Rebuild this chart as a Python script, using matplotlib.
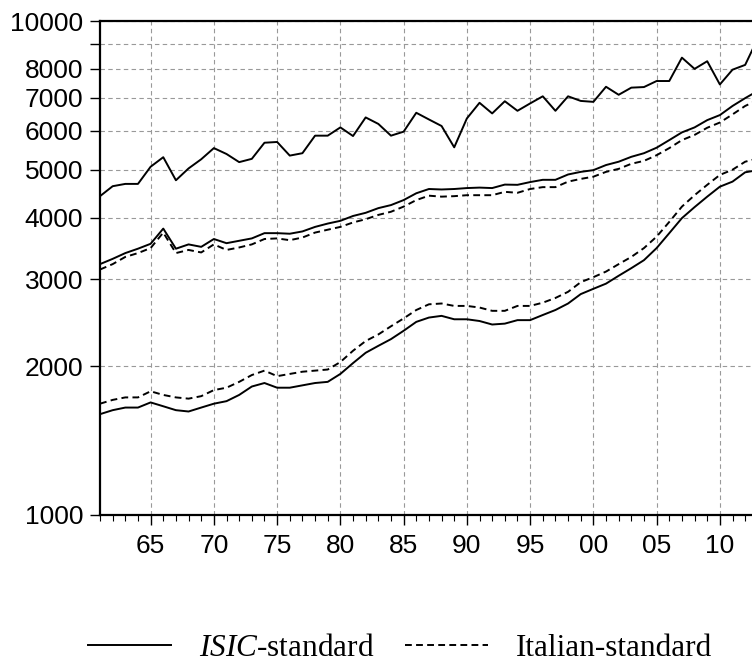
import matplotlib
matplotlib.use("Agg")
import matplotlib.pyplot as plt
from matplotlib.ticker import FixedLocator, MultipleLocator, NullFormatter

# years on the x axis
years = list(range(1961, 2014))

# upper series (one line only)
top_isic = [4420, 4630, 4680, 4680, 5070, 5300, 4760, 5030, 5250, 5530,
            5380, 5180, 5260, 5670, 5690, 5340, 5400, 5860, 5860, 6090,
            5850, 6380, 6190, 5860, 5970, 6520, 6320, 6130, 5550, 6350,
            6830, 6500, 6880, 6580, 6810, 7040, 6580, 7040, 6890, 6860,
            7360, 7090, 7330, 7350, 7560, 7560, 8430, 8000, 8290, 7440,
            7970, 8150, 9220]

# middle pair
mid_isic = [3220, 3300, 3390, 3460, 3540, 3800, 3460, 3530, 3490, 3620,
            3550, 3590, 3630, 3720, 3720, 3710, 3750, 3830, 3890, 3940,
            4030, 4090, 4180, 4240, 4340, 4480, 4570, 4560, 4570, 4590,
            4600, 4590, 4665, 4660, 4720, 4770, 4770, 4890, 4950, 4990,
            5110, 5190, 5310, 5400, 5540, 5740, 5950, 6090, 6300, 6450,
            6730, 6980, 7220]
mid_ital = [3140, 3220, 3330, 3390, 3470, 3730, 3390, 3440, 3400, 3530,
            3440, 3480, 3530, 3620, 3630, 3600, 3645, 3730, 3780, 3830,
            3910, 3970, 4050, 4110, 4210, 4340, 4430, 4410, 4420, 4440,
            4440, 4440, 4510, 4490, 4570, 4610, 4610, 4730, 4790, 4840,
            4950, 5020, 5140, 5210, 5350, 5530, 5740, 5880, 6080, 6230,
            6470, 6730, 6920]

# lower pair
low_isic = [1600, 1630, 1650, 1650, 1690, 1660, 1630, 1620, 1650, 1680,
            1700, 1750, 1820, 1850, 1810, 1810, 1830, 1850, 1860, 1930,
            2030, 2130, 2200, 2270, 2360, 2460, 2510, 2530, 2490, 2490,
            2470, 2430, 2440, 2480, 2480, 2540, 2600, 2680, 2800, 2870,
            2940, 3050, 3160, 3280, 3470, 3720, 3990, 4200, 4410, 4620,
            4730, 4940, 4990]
low_ital = [1680, 1710, 1730, 1730, 1780, 1750, 1730, 1720, 1740, 1790,
            1810, 1860, 1920, 1960, 1910, 1930, 1950, 1960, 1970, 2040,
            2150, 2250, 2320, 2410, 2500, 2600, 2670, 2680, 2650, 2650,
            2630, 2590, 2590, 2650, 2650, 2690, 2750, 2830, 2960, 3030,
            3110, 3220, 3330, 3470, 3660, 3920, 4210, 4440, 4660, 4880,
            5000, 5190, 5270]

ytick_vals = [1000, 2000, 3000, 4000, 5000, 6000, 7000, 8000, 9000, 10000]
ytick_text = ["1000", "2000", "3000", "4000", "5000", "6000", "7000", "8000", "", "10000"]
xtick_vals = [1965, 1970, 1975, 1980, 1985, 1990, 1995, 2000, 2005, 2010]
xtick_text = ["65", "70", "75", "80", "85", "90", "95", "00", "05", "10"]

plt.rcParams["font.family"] = "Liberation Sans"
plt.rcParams["mathtext.fontset"] = "custom"
plt.rcParams["mathtext.it"] = "Liberation Serif:italic"
plt.rcParams["mathtext.rm"] = "Liberation Serif"

fig = plt.figure(figsize=(7.52, 6.69), dpi=100)
ax = fig.add_axes([0.133, 0.2302, 0.867, 0.7384])

lw = 1.4
dash = (3.5, 2.2)
ax.plot(years, top_isic, color="black", lw=lw)
ax.plot(years, mid_isic, color="black", lw=lw, label=r"$\mathit{ISIC}$-standard")
ax.plot(years, mid_ital, color="black", lw=lw, dashes=dash, label="Italian-standard")
ax.plot(years, low_isic, color="black", lw=lw)
ax.plot(years, low_ital, color="black", lw=lw, dashes=dash)

ax.set_yscale("log")
ax.set_ylim(1000, 10000)
ax.set_xlim(1961, 2012.54)

ax.yaxis.set_major_locator(FixedLocator(ytick_vals))
ax.set_yticklabels(ytick_text)
ax.yaxis.set_minor_formatter(NullFormatter())
ax.yaxis.set_minor_locator(FixedLocator([]))
ax.set_xticks(xtick_vals)
ax.set_xticklabels(xtick_text)
ax.xaxis.set_minor_locator(MultipleLocator(1))

ax.tick_params(axis="both", which="major", direction="out", length=7, width=1,
               labelsize=19, color="black")
ax.tick_params(axis="y", pad=5)
ax.tick_params(axis="x", pad=7)
ax.tick_params(axis="x", which="minor", direction="out", length=4, width=0.8)

ax.grid(True, which="major", color="#999999", linestyle=(0, (4, 3)), linewidth=0.8)

for side in ["left", "bottom", "top"]:
    ax.spines[side].set_linewidth(1.6)
ax.spines["right"].set_visible(False)

fig.legend(loc="center", bbox_to_anchor=(0.532, 0.031), ncol=2, frameon=False,
           prop={"family": "Liberation Serif", "size": 22.5},
           handlelength=2.65, columnspacing=1.0, handletextpad=0.9)

fig.savefig("out.png", dpi=100)
